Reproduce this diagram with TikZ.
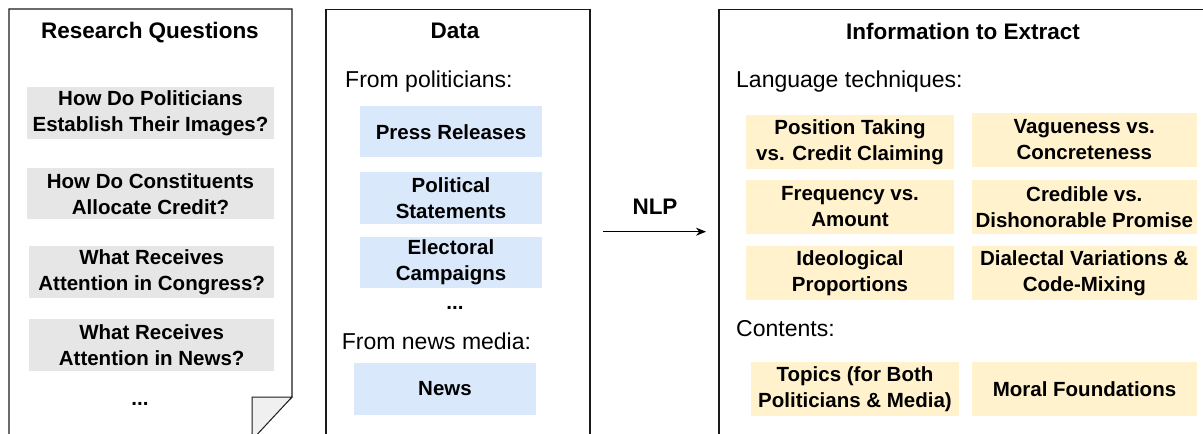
\documentclass[tikz,border=0pt]{standalone}
\usepackage{fontspec}
\setmainfont{Liberation Sans}
\usetikzlibrary{arrows.meta}
\definecolor{rqgray}{HTML}{E6E6E6}
\definecolor{datablue}{HTML}{DAE8FC}
\definecolor{infoyellow}{HTML}{FFF2CC}
\definecolor{foldgray}{HTML}{F0F0F0}
\definecolor{edge}{HTML}{1A1A1A}
\tikzset{
  panel/.style={draw=edge, line width=1.3pt},
  boxtext/.style={inner sep=0pt, align=center, font=\fontsize{20.5}{26}\selectfont\bfseries},
  rqbox/.style={boxtext, fill=rqgray},
  databox/.style={boxtext, fill=datablue},
  infobox/.style={boxtext, fill=infoyellow},
  title/.style={inner sep=0pt, anchor=base, font=\fontsize{22.5}{27}\selectfont\bfseries},
  plain/.style={inner sep=0pt, anchor=base west, font=\fontsize{23}{28}\selectfont},
  dotsty/.style={inner sep=0pt, anchor=base, font=\fontsize{20.5}{26}\selectfont\bfseries},
}
\begin{document}
\begin{tikzpicture}[x=1pt,y=-1pt]
\useasboundingbox (0,0) rectangle (1203,434);
\clip (0,0) rectangle (1203,434);
% panel 1 (folded corner document)
\draw[panel] (9,445) -- (9,9) -- (292,9) -- (292,397) -- (252,434);
\draw[panel, fill=foldgray, line width=1pt] (252,440) -- (252,397) -- (292,397) -- cycle;
% panel 2
\draw[panel] (326,445) -- (326,9.5) -- (590,9.5) -- (590,445);
% panel 3
\draw[panel] (719,445) -- (719,9.5) -- (1215,9.5);

% Research Questions
\node[title] (rqt) at (150,38) {Research Questions};
\node[rqbox, minimum width=247pt, minimum height=51.5pt] (rq1) at (150.5,113) {How Do Politicians\\Establish Their Images?};
\node[rqbox, minimum width=247pt, minimum height=51pt] (rq2) at (150.5,193.8) {How Do Constituents\\Allocate Credit?};
\node[rqbox, minimum width=244.7pt, minimum height=51.7pt] (rq3) at (151.7,271.8) {What Receives\\Attention in Congress?};
\node[rqbox, minimum width=244.7pt, minimum height=51.4pt] (rq4) at (151.7,345) {What Receives\\Attention in News?};
\node[dotsty] (rqd) at (140,405) {...};

% Data
\node[title] (dt) at (455,38) {Data};
\node[plain] (fp) at (345,87.3) {From politicians:};
\node[databox, minimum width=182pt, minimum height=51.3pt] (d1) at (451,131.7) {Press Releases};
\node[databox, minimum width=182pt, minimum height=51.3pt] (d2) at (451,198) {Political\\Statements};
\node[databox, minimum width=182pt, minimum height=51.7pt] (d3) at (451,262.5) {Electoral\\Campaigns};
\node[dotsty] (dd) at (455,309.3) {...};
\node[plain] (fn) at (341.7,349.3) {From news media:};
\node[databox, minimum width=182pt, minimum height=52.3pt] (d4) at (445,388.8) {News};

% NLP arrow
\node[title] (nlp) at (655,214) {NLP};
\coordinate (as) at (603,231.7);
\coordinate (ae) at (706,231.7);
\draw[line width=1pt, -{Stealth[length=10pt, width=8pt]}] (as) -- (ae);

% Information to Extract
\node[title] (it) at (963,39) {Information to Extract};
\node[plain] (lt) at (736,87.3) {Language techniques:};
\node[infobox, minimum width=208pt, minimum height=54pt] (i1) at (850,142) {Position Taking\\vs. Credit Claiming};
\node[infobox, minimum width=224.7pt, minimum height=53.4pt] (i2) at (1084.3,140) {Vagueness vs.\\Concreteness};
\node[infobox, minimum width=208pt, minimum height=54pt] (i3) at (850,207) {Frequency vs.\\Amount};
\node[infobox, minimum width=224.7pt, minimum height=54pt] (i4) at (1084.3,207) {Credible vs.\\Dishonorable Promise};
\node[infobox, minimum width=208pt, minimum height=54pt] (i5) at (850,273) {Ideological\\Proportions};
\node[infobox, minimum width=224.7pt, minimum height=54pt] (i6) at (1084.3,273) {Dialectal Variations \&\\Code-Mixing};
\node[plain] (ct) at (736,336.7) {Contents:};
\node[infobox, minimum width=208pt, minimum height=54.3pt] (i7) at (855,388.8) {Topics (for Both\\Politicians \& Media)};
\node[infobox, minimum width=225pt, minimum height=54.3pt] (i8) at (1084.5,388.8) {Moral Foundations};
\end{tikzpicture}
\end{document}
